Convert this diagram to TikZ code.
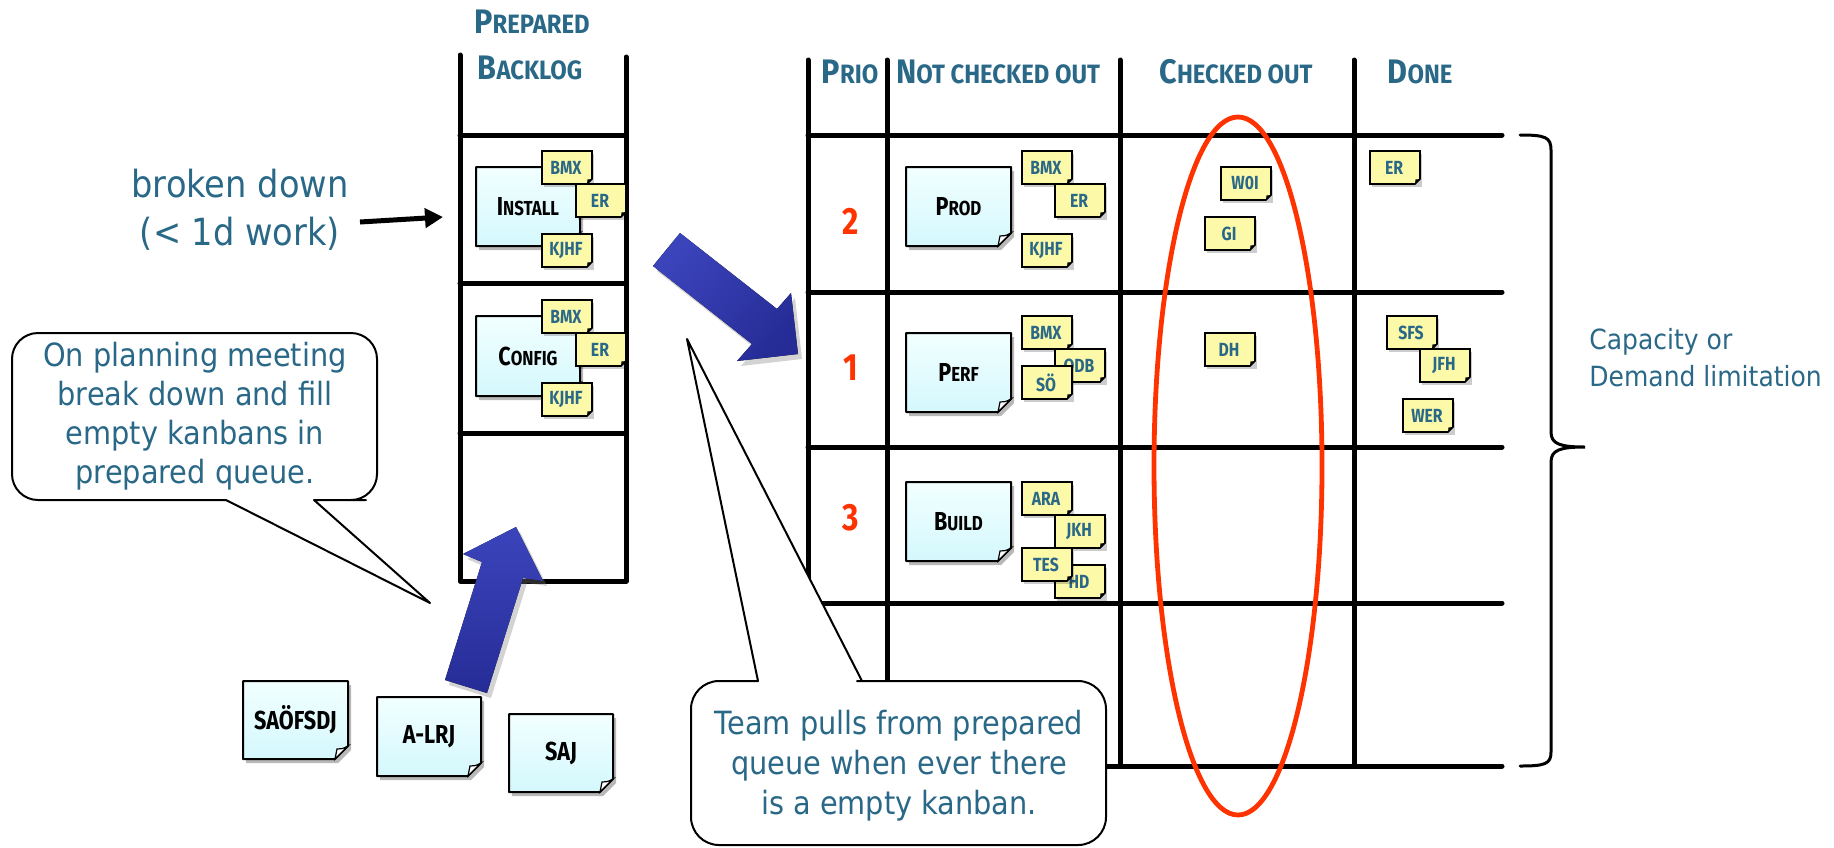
\documentclass[tikz,border=0pt]{standalone}
\usepackage{fontspec}
\setmainfont{DejaVu Sans}
\newfontfamily\bodyfont[FakeStretch=0.9]{DejaVu Sans}
\newfontfamily\comicfont[FakeStretch=0.83]{Fira Sans}
\newfontfamily\comicwide[FakeStretch=0.9]{Fira Sans}
\usetikzlibrary{arrows.meta,shadows}

\definecolor{ink}{RGB}{42,104,135}
\definecolor{prio}{RGB}{255,51,0}
\definecolor{tagyellow}{RGB}{252,249,168}
\definecolor{cardtop}{RGB}{242,255,255}
\definecolor{cardbot}{RGB}{212,248,253}
\definecolor{bluelight}{RGB}{60,68,188}
\definecolor{bluedark}{RGB}{38,44,150}

% hand-made small capitals: the rest of a word is set in smaller capitals
\makeatletter
\newcommand\lowcaps[1]{{\fontsize{\the\dimexpr\f@size pt*78/100\relax}{0pt}\selectfont #1}}
\makeatother

\tikzset{
  gridline/.style={line width=2.5pt, line cap=round, line join=round},
  header/.style={font=\comicwide\bfseries\fontsize{17}{20}\selectfont, text=ink, anchor=base, inner sep=0pt},
  prionum/.style={font=\comicfont\bfseries\fontsize{19}{20}\selectfont, text=prio, inner sep=0pt},
  cardedge/.style={draw=black, line width=1pt, line join=round, top color=cardtop, bottom color=cardbot},
  cardfold/.style={draw=black, line width=0.6pt, fill=white},
  cardshadow/.style={fill=black, opacity=0.28},
  cardlabel/.style={font=\comicfont\bfseries\fontsize{13}{15}\selectfont, text=black, inner sep=0pt},
  tagedge/.style={draw=black, line width=0.8pt, fill=tagyellow},
  tagshadow/.style={fill=black, opacity=0.2},
  taglabel/.style={font=\comicfont\bfseries\fontsize{9.5}{11}\selectfont, text=ink, inner sep=0pt},
  note/.style={font=\bodyfont\fontsize{16}{19.5}\selectfont, text=ink, align=center, inner sep=0pt},
  callout/.style={draw=black, line width=1pt, fill=white, line join=round},
  bluearrow/.style={left color=bluelight, right color=bluedark, shading angle=#1,
    drop shadow={shadow xshift=2pt, shadow yshift=-2.5pt, opacity=0.35}},
}

% task card with a turned-up corner: name, left, top, right, bottom, label
\newcommand\kbcard[6]{%
  \fill[cardshadow] (#2+3,#3+4) -- (#4+3,#3+4) -- (#4+3,#5-9) -- (#4-10,#5+4) -- (#2+3,#5+4) -- cycle;
  \path[cardedge] (#2,#3) -- (#4,#3) -- (#4,#5-13) -- (#4-13,#5) -- (#2,#5) -- cycle;
  \draw[cardfold] (#4,#5-13) .. controls (#4-5,#5-10) and (#4-8,#5-10) .. (#4-11,#5-10) -- (#4-13,#5) -- cycle;
  \node[cardlabel] (#1) at ({(#2+#4)/2},{(#3+#5)/2}) {#6};
}

% small yellow name tag: name, left, top, label
\newcommand\kbtag[4]{%
  \fill[tagshadow] (#2+2,#3+3) rectangle (#2+52,#3+36);
  \path[tagedge] (#2,#3) -- (#2+50,#3) -- (#2+50,#3+28) -- (#2+45,#3+33) -- (#2,#3+33) -- cycle;
  \fill[black] (#2+50,#3+28) -- (#2+45,#3+33) -- (#2+45.5,#3+28.5) -- cycle;
  \node[taglabel] (#1) at (#2+24,#3+16.5) {#4};
}

\begin{document}
\begin{tikzpicture}[x=0.5pt, y=-0.5pt]
\useasboundingbox (0,0) rectangle (1834,847);

% ---------------- prepared backlog column ----------------
\node[header] (hprep) at (532,33) {P\lowcaps{REPARED}};
\node[header] (hback) at (530,79) {B\lowcaps{ACKLOG}};
\begin{scope}[gridline]
  \draw (460,55) -- (460,581) -- (626,581) -- (626,57);
  \draw (460,135) -- (626,135);
  \draw (460,283) -- (626,283);
  \draw (460,433) -- (626,433);
\end{scope}

% ---------------- main board ----------------
\node[header] (hprio) at (850,83) {P\lowcaps{RIO}};
\node[header] (hnot)  at (998,83) {N\lowcaps{OT CHECKED OUT}};
\node[header] (hchk)  at (1236,83) {C\lowcaps{HECKED OUT}};
\node[header] (hdone) at (1420,83) {D\lowcaps{ONE}};
\begin{scope}[gridline]
  \foreach \gx in {808,887,1120,1354} \draw (\gx,60) -- (\gx,766);
  \foreach \gy in {135,292,447,603,766} \draw (808,\gy) -- (1502,\gy);
\end{scope}

\node[prionum] (p2) at (851,221) {2};
\node[prionum] (p1) at (851,368) {1};
\node[prionum] (p3) at (851,518) {3};

% backlog cards
\kbcard{install}{476}{167}{580}{246}{I\lowcaps{NSTALL}}
\kbtag{iBMX}{542}{151}{BMX}
\kbtag{iER}{576}{184}{ER}
\kbtag{iKJHF}{542}{234}{KJHF}

\kbcard{config}{476}{316}{580}{396}{C\lowcaps{ONFIG}}
\kbtag{cBMX}{542}{300}{BMX}
\kbtag{cER}{576}{333}{ER}
\kbtag{cKJHF}{542}{383}{KJHF}

% cards not yet broken down
\kbcard{saofsdj}{243}{681}{348}{759}{SAÖFSDJ}
\kbcard{alrj}{377}{697}{481}{776}{A-LRJ}
\kbcard{saj}{509}{714}{613}{792}{SAJ}

% row 2
\kbcard{prod}{906}{167}{1011}{246}{P\lowcaps{ROD}}
\kbtag{pBMX}{1022}{151}{BMX}
\kbtag{pER}{1055}{184}{ER}
\kbtag{pKJHF}{1022}{234}{KJHF}
\kbtag{pWOI}{1221}{167}{W0I}
\kbtag{pGI}{1205}{217}{GI}
\kbtag{pDER}{1370}{151}{ER}

% row 1
\kbcard{perf}{906}{333}{1011}{412}{P\lowcaps{ERF}}
\kbtag{fBMX}{1022}{316}{BMX}
\kbtag{fODB}{1055}{349}{ODB}
\kbtag{fSO}{1022}{366}{SÖ}
\kbtag{fDH}{1205}{333}{DH}
\kbtag{fSFS}{1387}{316}{SFS}
\kbtag{fJFH}{1420}{349}{JFH}
\kbtag{fWER}{1403}{399}{WER}

% row 3
\kbcard{build}{906}{482}{1011}{561}{B\lowcaps{UILD}}
\kbtag{bARA}{1022}{482}{ARA}
\kbtag{bJKH}{1055}{515}{JKH}
\kbtag{bHD}{1055}{565}{HD}
\kbtag{bTES}{1022}{548}{TES}

% work-in-progress limit
\draw[line width=2.4pt, draw=prio] (1238,466) ellipse [x radius=84, y radius=349];

% brace over the rows
\draw[line width=1.5pt, line cap=round] (1520,135) .. controls (1545,135) and (1551,137) .. (1551,150)
  -- (1551,432) .. controls (1551,444) and (1560,447) .. (1585,447)
  .. controls (1560,447) and (1551,450) .. (1551,462)
  -- (1551,752) .. controls (1551,764) and (1545,766) .. (1520,766);
\node[note, font=\bodyfont\fontsize{13.9}{18.5}\selectfont, align=left, anchor=west] (cap) at (1589,358)
  {Capacity or\\Demand limitation};

% side note
\node[note, font=\bodyfont\fontsize{18.7}{24}\selectfont] (brk) at (240,210) {broken down\\(< 1d work)};
\coordinate (brkfrom) at (360,222);
\coordinate (brkto) at (443,217);
\draw[line width=2.5pt, -{Triangle[length=9pt,width=9.5pt]}] (brkfrom) -- (brkto);

% pull arrows
\fill[bluearrow=50] (680,233) -- (777,309) -- (791,293) -- (798,354) -- (737,361) -- (752,344) -- (653,266) -- cycle;
\fill[bluearrow=0] (445,680) -- (482,562) -- (463,554) -- (516,527) -- (543,581) -- (523,578) -- (487,693) -- cycle;

% speech bubbles
\draw[callout] (430,603) -- (226,500) -- (200,500) [rounded corners=13pt] -- (12,500) -- (12,333)
  -- (377,333) -- (377,500) -- (340,500) [sharp corners] -- (314,500) -- cycle;
\node[note] (plan) at (195,416) {On planning meeting\\break down and fill\\empty kanbans in\\prepared queue.};

\draw[callout] (687,339) -- (758,681) -- (735,681) [rounded corners=14pt] -- (691,681) -- (691,845)
  -- (1106,845) -- (1106,681) -- (885,681) [sharp corners] -- (862,681) -- cycle;
\node[note, font=\bodyfont\fontsize{16}{20}\selectfont] (pull) at (899,766) {Team pulls from prepared\\queue when ever there\\is a empty kanban.};
\end{tikzpicture}
\end{document}
